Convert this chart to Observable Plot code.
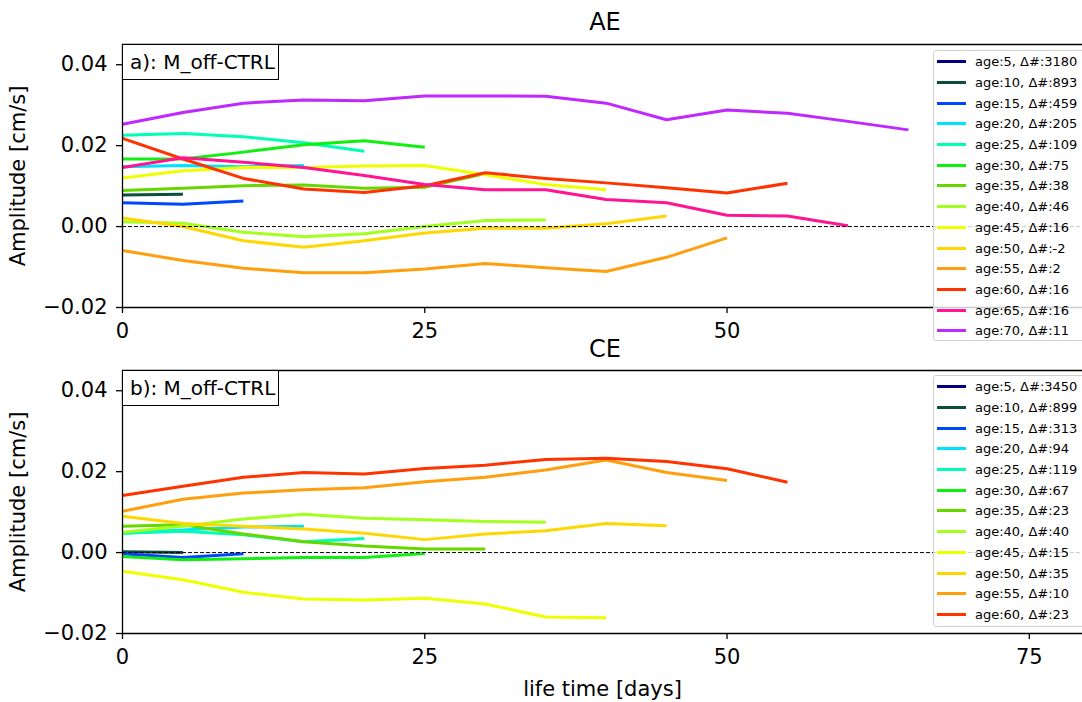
<!DOCTYPE html>
<html>
<head>
<meta charset="utf-8">
<script src="https://cdn.jsdelivr.net/npm/d3@7"></script>
<script src="https://cdn.jsdelivr.net/npm/@observablehq/plot@0.6"></script>
<style>
html, body { margin: 0; padding: 0; background: #fff; overflow: hidden; }
#root { position: relative; width: 1082px; height: 702px; font-family: "DejaVu Sans", sans-serif; color: #000; }
.panel { position: absolute; left: 0; }
.ttl { position: absolute; font-size: 24px; line-height: 0; white-space: nowrap; transform: translateX(-50%); }
.tag { position: absolute; left: 122px; width: 157px; height: 36px; box-sizing: border-box; border: 1.3px solid #000; background: #fff;
       font-size: 20px; display: flex; align-items: center; padding-left: 7px; white-space: nowrap; }
.legend { position: absolute; left: 933px; width: 160px; box-sizing: border-box; border: 1px solid #cfcfcf; border-radius: 3px;
          background: rgba(255,255,255,0.8); padding-top: 0.5px; }
.row { height: 20.7px; display: flex; align-items: center; font-size: 13px; white-space: nowrap; }
.sw { width: 29px; height: 3px; margin-left: 2.7px; margin-right: 9.3px; }
</style>
</head>
<body>
<div id="root"></div>
<script>
// ---------- data ----------
const days = [0, 5, 10, 15, 20, 25, 30, 35, 40, 45, 50, 55, 60, 65];
const ages = [5, 10, 15, 20, 25, 30, 35, 40, 45, 50, 55, 60, 65, 70];
const ageColors = ["#000080", "#0b4f3c", "#0048ff", "#00e1ff", "#00ffb4", "#10f010", "#66d800",
                   "#a2ff1e", "#eeff00", "#ffd700", "#ff9f0d", "#ff3300", "#ff1493", "#bf28ff"];

// AE panel: Δ# counts and amplitude [cm/s] per age class (one value every 5 days)
const aeCounts = [3180, 893, 459, 205, 109, 75, 38, 46, 16, -2, 2, 16, 16, 11];
const AE_05 = [0.0078];
const AE_10 = [0.0078, 0.0080];
const AE_15 = [0.0059, 0.0055, 0.0063];
const AE_20 = [0.0148, 0.0151, 0.0148, 0.0151];
const AE_25 = [0.0226, 0.0230, 0.0222, 0.0207, 0.0186];
const AE_30 = [0.0167, 0.0167, 0.0184, 0.0202, 0.0212, 0.0196];
const AE_35 = [0.0089, 0.0095, 0.0101, 0.0103, 0.0095, 0.0097, 0.0131];
const AE_40 = [0.0012, 0.0008, -0.0014, -0.0025, -0.0018, 0.0000, 0.0015, 0.0016];
const AE_45 = [0.0120, 0.0138, 0.0146, 0.0146, 0.0150, 0.0151, 0.0128, 0.0104, 0.0091];
const AE_50 = [0.0021, 0.0000, -0.0035, -0.0051, -0.0035, -0.0016, -0.0004, -0.0004, 0.0007, 0.0026];
const AE_55 = [-0.0059, -0.0084, -0.0103, -0.0114, -0.0114, -0.0105, -0.0091, -0.0102, -0.0111, -0.0076, -0.0028];
const AE_60 = [0.0218, 0.0167, 0.0119, 0.0093, 0.0084, 0.0101, 0.0133, 0.0119, 0.0108, 0.0096, 0.0083, 0.0107];
const AE_65 = [0.0146, 0.0170, 0.0159, 0.0146, 0.0126, 0.0104, 0.0091, 0.0091, 0.0067, 0.0059, 0.0028, 0.0026, 0.0002];
const AE_70 = [0.0253, 0.0282, 0.0305, 0.0313, 0.0311, 0.0323, 0.0323, 0.0322, 0.0305, 0.0264, 0.0288, 0.0280, 0.0260, 0.0239];

// CE panel
const ceCounts = [3450, 899, 313, 94, 119, 67, 23, 40, 15, 35, 10, 23];
const CE_05 = [0.0002];
const CE_10 = [0.0002, 0.0000];
const CE_15 = [-0.0003, -0.0012, -0.0003];
const CE_20 = [0.0048, 0.0056, 0.0063, 0.0065];
const CE_25 = [0.0048, 0.0053, 0.0044, 0.0027, 0.0035];
const CE_30 = [-0.0010, -0.0018, -0.0015, -0.0012, -0.0012, -0.0002];
const CE_35 = [0.0065, 0.0069, 0.0046, 0.0027, 0.0016, 0.0009, 0.0009];
const CE_40 = [0.0050, 0.0065, 0.0083, 0.0095, 0.0085, 0.0081, 0.0077, 0.0075];
const CE_45 = [-0.0046, -0.0067, -0.0098, -0.0115, -0.0117, -0.0113, -0.0127, -0.0159, -0.0161];
const CE_50 = [0.0090, 0.0072, 0.0065, 0.0058, 0.0048, 0.0032, 0.0046, 0.0054, 0.0072, 0.0066];
const CE_55 = [0.0102, 0.0132, 0.0147, 0.0155, 0.0160, 0.0175, 0.0186, 0.0204, 0.0229, 0.0198, 0.0178];
const CE_60 = [0.0141, 0.0164, 0.0186, 0.0198, 0.0194, 0.0208, 0.0216, 0.0230, 0.0233, 0.0225, 0.0207, 0.0174];

const yTicks = [-0.02, 0.00, 0.02, 0.04];
const xTicksTop = [0, 25, 50];        // the 75 tick of panel a) is hidden under its legend
const xTicksBottom = [0, 25, 50, 75];
const yDomain = [-0.02, 0.045];
const xDomain = [0, 79.4];

const aeSeries = [AE_05, AE_10, AE_15, AE_20, AE_25, AE_30, AE_35, AE_40, AE_45, AE_50, AE_55, AE_60, AE_65, AE_70];
const ceSeries = [CE_05, CE_10, CE_15, CE_20, CE_25, CE_30, CE_35, CE_40, CE_45, CE_50, CE_55, CE_60];

// ---------- build ----------
function tidy(series) {
  return series.flatMap((vals, i) => vals.map((v, j) => ({age: ages[i], day: days[j], amp: v})));
}

const root = document.getElementById("root");
const fmt = d3.format(".2f");

function panel({series, xTicks, top, height, marginTop, marginBottom, xlabel}) {
  const data = tidy(series);
  const n = series.length;
  const chart = Plot.plot({
    width: 1082, height, marginLeft: 122, marginRight: 0, marginTop, marginBottom,
    style: {fontFamily: "DejaVu Sans", fontSize: "21px", color: "#000", background: "transparent", overflow: "visible"},
    x: {domain: xDomain},
    y: {domain: yDomain},
    color: {type: "ordinal", domain: ages.slice(0, n), range: ageColors.slice(0, n)},
    marks: [
      Plot.line(data, {x: "day", y: "amp", z: "age", stroke: "age", strokeWidth: 3, strokeLinecap: "butt", strokeLinejoin: "round"}),
      Plot.ruleY([0], {stroke: "#000", strokeWidth: 1, strokeDasharray: "4,2"}),
      Plot.ruleY([yDomain[1]], {stroke: "#000", strokeWidth: 1.3}),
      Plot.ruleY([yDomain[0]], {stroke: "#000", strokeWidth: 1.3}),
      Plot.ruleX([0], {stroke: "#000", strokeWidth: 1.3}),
      Plot.axisY({ticks: yTicks, tickFormat: fmt, tickSize: 6, tickPadding: 9, strokeWidth: 1.3,
                  label: "Amplitude [cm/s]", labelAnchor: "center", labelArrow: "none", labelOffset: 112}),
      Plot.axisX({ticks: xTicks, tickSize: 6, tickPadding: 10, strokeWidth: 1.3,
                  label: xlabel, labelAnchor: "center", labelArrow: "none", labelOffset: 62})
    ]
  });
  chart.classList.add("panel");
  chart.style.top = top + "px";
  root.appendChild(chart);
}

panel({series: aeSeries, xTicks: xTicksTop, top: 0, height: 345, marginTop: 44, marginBottom: 38, xlabel: null});
panel({series: ceSeries, xTicks: xTicksBottom, top: 345, height: 357, marginTop: 25, marginBottom: 69, xlabel: "life time [days]"});

function addTitle(text, baseline) {
  const d = document.createElement("div");
  d.className = "ttl";
  d.textContent = text;
  d.style.left = "605px";
  d.style.top = (baseline - 0.346 * 24) + "px";
  root.appendChild(d);
}
addTitle("AE", 30);
addTitle("CE", 357);

function addTag(text, top) {
  const d = document.createElement("div");
  d.className = "tag";
  d.textContent = text;
  d.style.top = top + "px";
  root.appendChild(d);
}
addTag("a): M_off-CTRL", 43.5);
addTag("b): M_off-CTRL", 370);

function addLegend(counts, top, height) {
  const box = document.createElement("div");
  box.className = "legend";
  box.style.top = top + "px";
  box.style.height = height + "px";
  counts.forEach((c, i) => {
    const r = document.createElement("div");
    r.className = "row";
    const sw = document.createElement("div");
    sw.className = "sw";
    sw.style.background = ageColors[i];
    const t = document.createElement("span");
    t.textContent = `age:${ages[i]}, Δ#:${c}`;
    r.appendChild(sw);
    r.appendChild(t);
    box.appendChild(r);
  });
  root.appendChild(box);
}
addLegend(aeCounts, 50, 291);
addLegend(ceCounts, 375, 252);
</script>
</body>
</html>
